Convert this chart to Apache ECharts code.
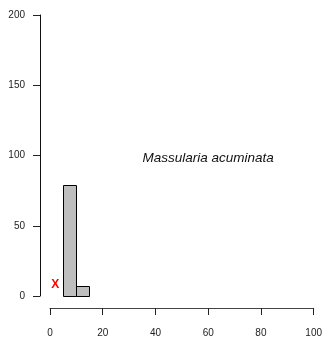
<!DOCTYPE html>
<html><head><meta charset="utf-8">
<script src="https://cdn.jsdelivr.net/npm/echarts@6/dist/echarts.min.js"></script>
<style>html,body{margin:0;padding:0;background:#fff}#c{width:325px;height:347px}</style>
</head><body><div id="c"></div>
<script>
const binStarts = [5, 10];
const binEnds = [10, 15];
const counts = [79, 7];
const markerPoint = [[2, 8]];
const annotation = [[60, 98, 'Massularia acuminata']];
const xTicks = [0, 20, 40, 60, 80, 100];
const yTicks = [0, 50, 100, 150, 200];

const bins = binStarts.map((s, i) => [s, binEnds[i], counts[i]]);
const chart = echarts.init(document.getElementById('c'));
const font = 'Liberation Sans, Arial, sans-serif';
chart.setOption({
  animation: false,
  grid: {left: 50, right: 8, top: 15, bottom: 51},
  xAxis: {
    type: 'value', min: 0, max: 100, interval: 20,
    offset: 12,
    axisLine: {show: true, onZero: false, lineStyle: {color: '#444', width: 1}},
    axisTick: {show: true, length: 7, lineStyle: {color: '#222'}},
    axisLabel: {margin: 20, color: '#222', fontSize: 10, fontFamily: font},
    splitLine: {show: false}
  },
  yAxis: {
    type: 'value', min: 0, max: 200, interval: 50,
    offset: 10,
    axisLine: {show: true, onZero: false, lineStyle: {color: '#111', width: 1}},
    axisTick: {show: true, length: 7, lineStyle: {color: '#222'}},
    axisLabel: {margin: 15, color: '#222', fontSize: 10, fontFamily: font},
    splitLine: {show: false}
  },
  series: [
    {
      type: 'custom',
      data: bins,
      renderItem: function (params, api) {
        const p0 = api.coord([api.value(0), api.value(2)]);
        const p1 = api.coord([api.value(1), 0]);
        return {
          type: 'rect',
          shape: {x: Math.round(p0[0]) + 0.5, y: Math.round(p0[1]) + 0.5, width: Math.round(p1[0] - p0[0]), height: Math.round(p1[1] - p0[1])},
          style: {fill: '#bebebe', stroke: '#000', lineWidth: 1}
        };
      }
    },
    {
      type: 'custom',
      data: markerPoint,
      renderItem: function (params, api) {
        const p = api.coord([api.value(0), api.value(1)]);
        return {type: 'text', x: p[0], y: p[1], style: {text: 'X', fill: '#ff0000', font: 'bold 12px ' + font, align: 'center', verticalAlign: 'middle'}};
      }
    },
    {
      type: 'custom',
      data: annotation,
      dimensions: ['x', 'y', 'label'],
      encode: {x: 0, y: 1},
      renderItem: function (params, api) {
        const p = api.coord([api.value(0), api.value(1)]);
        return {type: 'text', x: p[0], y: p[1], style: {text: annotation[params.dataIndex][2], fill: '#111', font: 'italic 13.5px ' + font, align: 'center', verticalAlign: 'middle'}};
      }
    }
  ]
});
</script></body></html>
